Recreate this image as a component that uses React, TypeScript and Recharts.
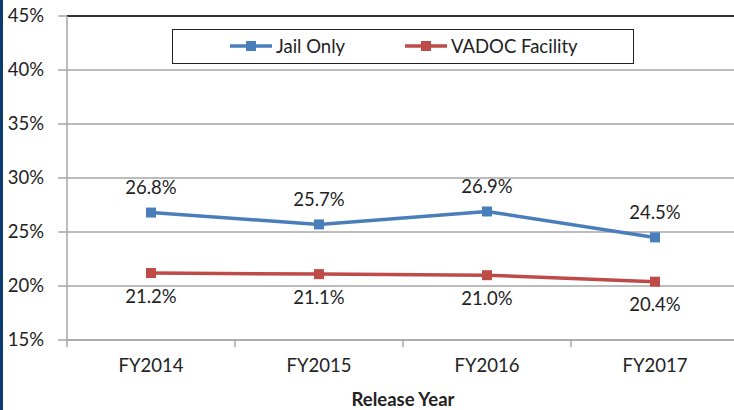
import React from "react";
import { LineChart, Line, XAxis, YAxis, CartesianGrid, LabelList, ReferenceLine, Label } from "recharts";

const categories = ["FY2014", "FY2015", "FY2016", "FY2017"];
const jailOnly = [26.8, 25.7, 26.9, 24.5];
const vadocFacility = [21.2, 21.1, 21.0, 20.4];
const yTicks = [15, 20, 25, 30, 35, 40, 45];
const seriesNames = ["Jail Only", "VADOC Facility"];
const xTitle = "Release Year";

const data = categories.map((c, i) => ({ cat: c, jail: jailOnly[i], vadoc: vadocFacility[i] }));

const BLUE = "#4a7ebb";
const RED = "#be4b48";
const FONT = "Lato, 'Open Sans', sans-serif";
const FS = 18.5;

const XTick = (props: any) => {
  const { x, y, payload } = props;
  const off = payload.offset || 0;
  return (
    <g>
      <line x1={x - off} y1={y - 8} x2={x - off} y2={y - 1} stroke="#a6a6a6" strokeWidth={1.5} />
      <text x={x} y={y + 19} textAnchor="middle" dominantBaseline="middle" fontSize={FS} fill="#222" fontFamily={FONT}>
        {payload.value}
      </text>
    </g>
  );
};

const YTick = (props: any) => {
  const { x, y, payload } = props;
  return (
    <text x={x - 12} y={y + 1} textAnchor="end" dominantBaseline="middle" fontSize={FS} fill="#222" fontFamily={FONT}>
      {payload.value}%
    </text>
  );
};

const XTitle = (props: any) => {
  const vb = props.viewBox || {};
  return (
    <text
      x={vb.x + vb.width / 2}
      y={vb.y + vb.height - 6}
      textAnchor="middle"
      fontSize={18.5}
      fontWeight={700}
      fill="#222"
      fontFamily={FONT}
    >
      {xTitle}
    </text>
  );
};

const makeLabel = (dy: number) => (props: any) => {
  const { x, y, value } = props;
  return (
    <text x={x} y={y + dy} textAnchor="middle" dominantBaseline="middle" fontSize={FS} fill="#222" fontFamily={FONT}>
      {Number(value).toFixed(1)}%
    </text>
  );
};

const Square = (color: string) => (props: any) => {
  const { cx, cy } = props;
  return <rect x={cx - 5} y={cy - 5} width={10} height={10} fill={color} />;
};

const LegendBox = () => {
  const items = [
    { name: seriesNames[0], color: BLUE, left: 56 },
    { name: seriesNames[1], color: RED, left: 231 },
  ];
  return (
    <div
      style={{
        position: "absolute",
        left: 172,
        top: 29,
        width: 462,
        height: 35,
        border: "1.5px solid #222",
        boxSizing: "border-box",
        background: "#fff",
        fontFamily: FONT,
        fontSize: FS,
        color: "#222",
        zIndex: 1,
      }}
    >
      {items.map((it) => (
        <div
          key={it.name}
          style={{ position: "absolute", left: it.left, top: 4, display: "flex", alignItems: "center", height: 24, whiteSpace: "nowrap" }}
        >
          <svg width={44} height={12}>
            <line x1={1} y1={6} x2={43} y2={6} stroke={it.color} strokeWidth={3.5} />
            <rect x={17} y={1} width={10} height={10} fill={it.color} />
          </svg>
          <span style={{ marginLeft: 3 }}>{it.name}</span>
        </div>
      ))}
    </div>
  );
};

export default function App() {
  return (
    <div style={{ position: "absolute", left: 0, top: 0, width: 734, height: 410, overflow: "hidden", background: "#fff" }}>
      <div style={{ position: "absolute", left: 0, top: 0, width: 3, height: 410, background: "#0b3b6f", zIndex: 2 }} />
      <LegendBox />
      <LineChart width={740} height={422} data={data} margin={{ top: 16, right: 1, left: 0, bottom: 10 }}>
        <CartesianGrid horizontal vertical={false} stroke="#a6a6a6" strokeWidth={1.5} />
        <XAxis
          dataKey="cat"
          type="category"
          scale="band"
          height={72}
          axisLine={{ stroke: "#a6a6a6", strokeWidth: 1.5 }}
          tickLine={false}
          tick={<XTick />}
          interval={0}
        >
          <Label content={<XTitle />} />
        </XAxis>
        <YAxis
          type="number"
          domain={[15, 45]}
          ticks={yTicks}
          width={67}
          interval={0}
          axisLine={{ stroke: "#a6a6a6", strokeWidth: 1.5 }}
          tickLine={{ stroke: "#a6a6a6", strokeWidth: 1.5 }}
          tickSize={9}
          tick={<YTick />}
        />
        <ReferenceLine y={45} stroke="#333" strokeWidth={1.8} />
        <Line
          dataKey="jail"
          name={seriesNames[0]}
          stroke={BLUE}
          strokeWidth={3.5}
          dot={Square(BLUE)}
          activeDot={false}
          isAnimationActive={false}
        >
          <LabelList dataKey="jail" content={makeLabel(-23)} />
        </Line>
        <Line
          dataKey="vadoc"
          name={seriesNames[1]}
          stroke={RED}
          strokeWidth={3.5}
          dot={Square(RED)}
          activeDot={false}
          isAnimationActive={false}
        >
          <LabelList dataKey="vadoc" content={makeLabel(25)} />
        </Line>
      </LineChart>
    </div>
  );
}
